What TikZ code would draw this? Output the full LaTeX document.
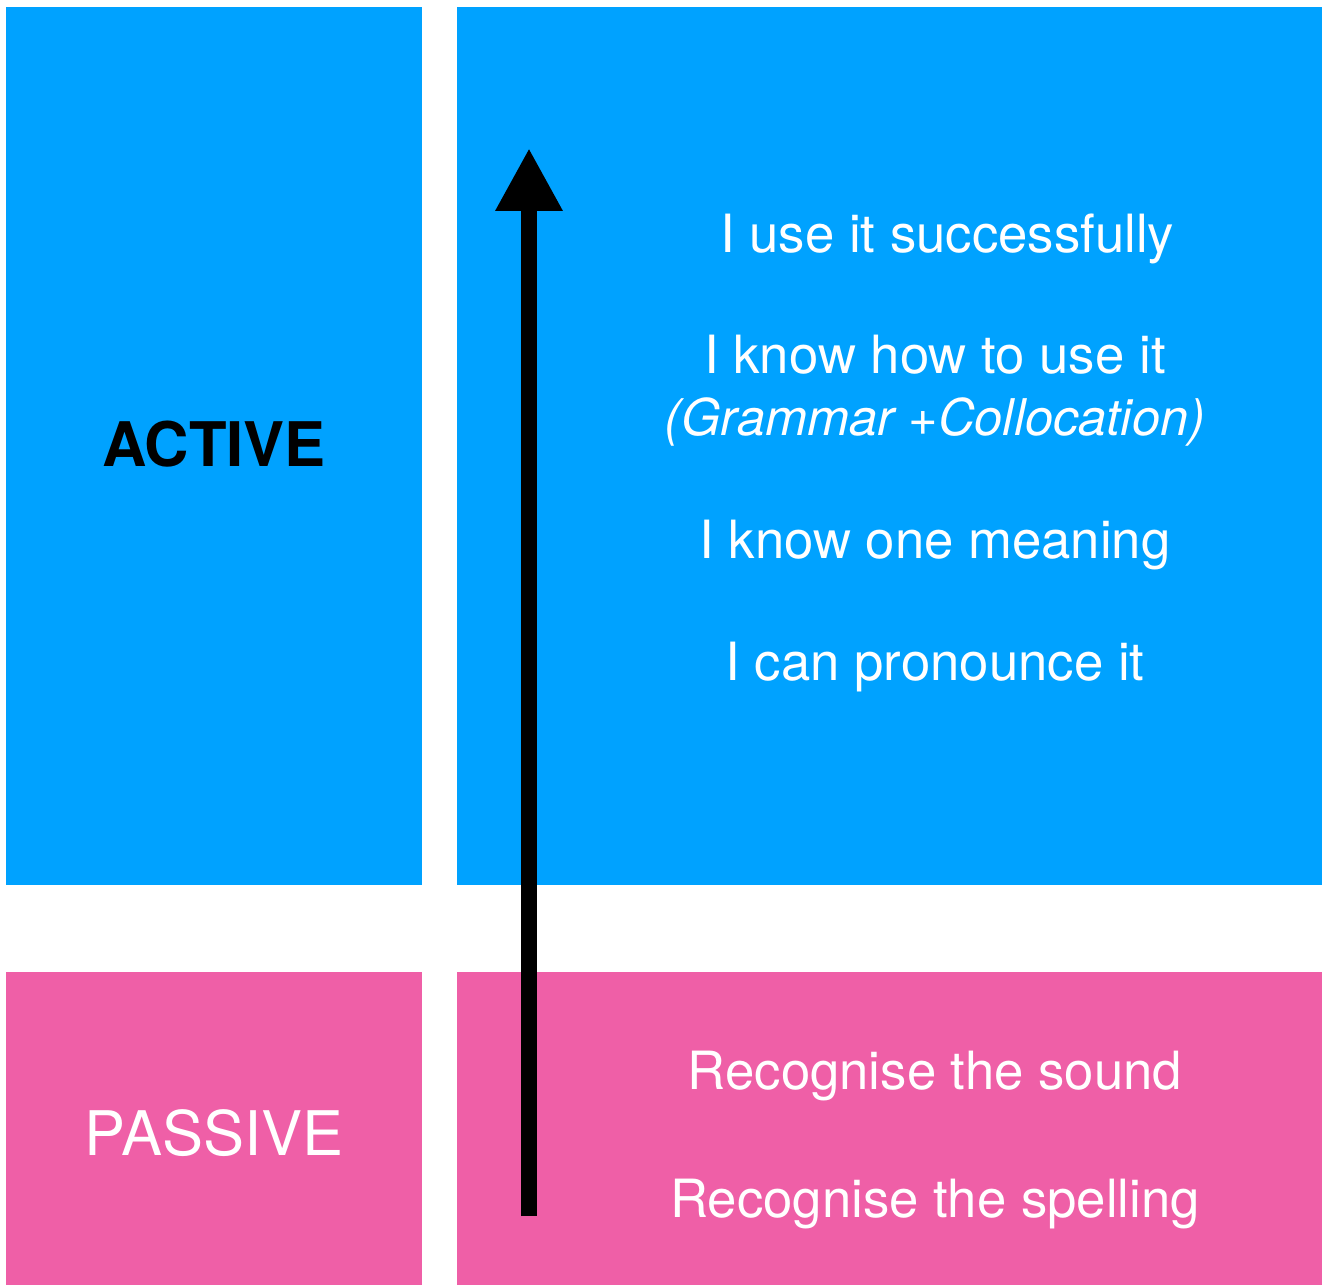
\documentclass[tikz,border=0pt]{standalone}
\usepackage{fontspec}
\setmainfont{TeX Gyre Heros}
\usepackage{xcolor}
\usepackage{tikz}
\usetikzlibrary{arrows.meta, positioning}

\definecolor{activeblue}{HTML}{00A2FF}
\definecolor{passivepink}{HTML}{EF5FA7}

\tikzset{
  level/.style={text=white, anchor=base, font=\fontsize{30}{36}\selectfont},
  side/.style={anchor=base, font=\fontsize{35}{42}\selectfont},
}

\begin{document}
\begin{tikzpicture}[x=0.02cm, y=-0.02cm]
\useasboundingbox[fill=white] (0,0) rectangle (1329,1286);
% the four blocks
\fill[activeblue]  (6,7)   rectangle (422,885);
\fill[activeblue]  (457,7) rectangle (1322,885);
\fill[passivepink] (6,972)   rectangle (422,1285);
\fill[passivepink] (457,972) rectangle (1322,1285);

\node[side, font=\fontsize{35}{42}\selectfont\bfseries] (active) at (214,466) {ACTIVE};
\node[side, text=white] (passive) at (214,1155) {PASSIVE};

% steps, from the top down
\foreach \x/\y/\t/\n in {947/252/{I use it successfully}/use,
                         935/373/{I know how to use it}/how,
                         935/558/{I know one meaning}/meaning,
                         935/680/{I can pronounce it}/pronounce,
                         935/1089/{Recognise the sound}/sound,
                         935/1217/{Recognise the spelling}/spelling}
  \node[level] (\n) at (\x,\y) {\t};
\node[level, font=\fontsize{28.8}{34}\selectfont\itshape] (gram) at (935,435) {(Grammar +Collocation)};

\coordinate (low) at (529,1216);
\coordinate (high) at (529,148);
\draw[line width=0.32cm, -{Triangle[length=1.26cm, width=1.26cm]}] (low) -- (high);
\end{tikzpicture}
\end{document}
